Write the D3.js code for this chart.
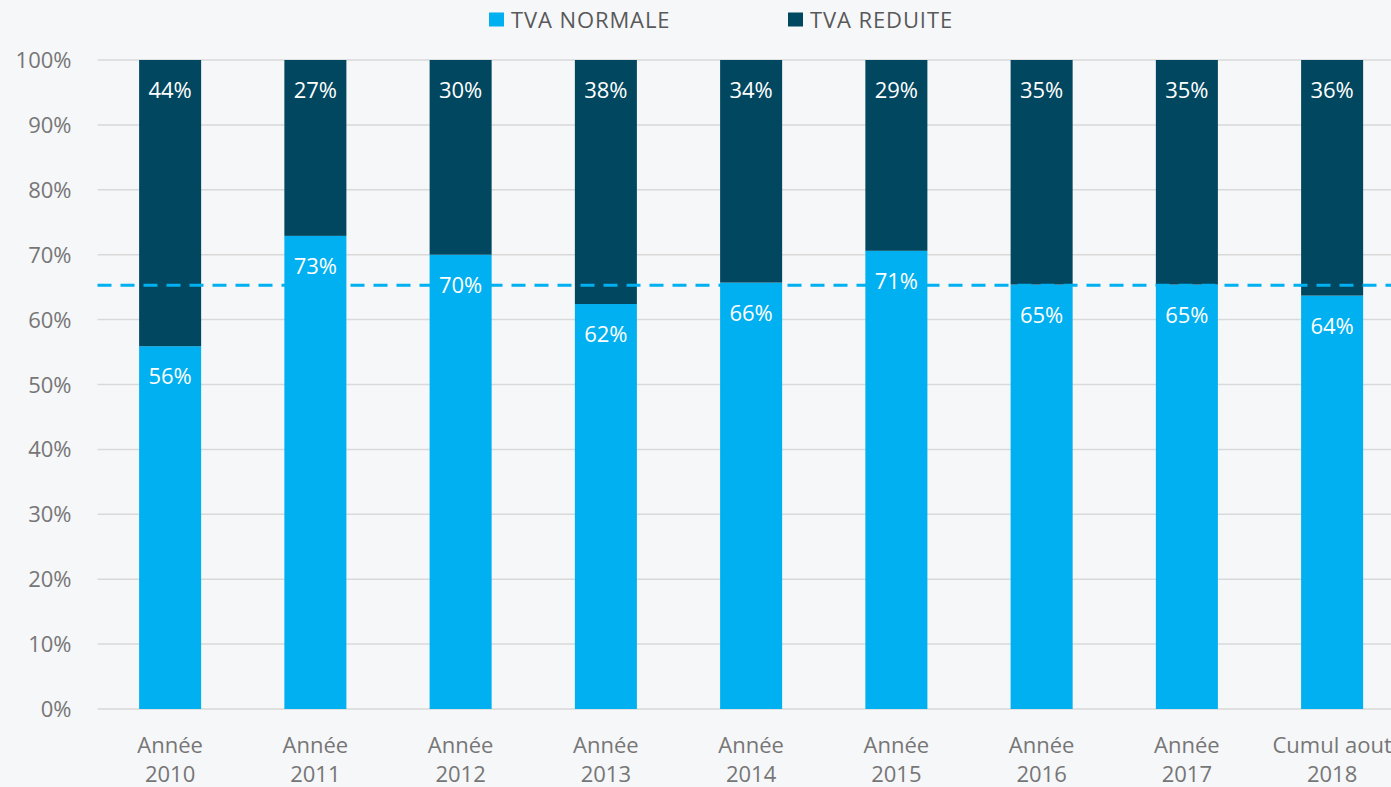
<!DOCTYPE html>
<meta charset="utf-8">
<style>
  body { margin: 0; background: #f6f7f9; }
  svg { display: block; font-family: "Open Sans", sans-serif; }
  .grid line { stroke: #d9d9d9; stroke-width: 1.5px; }
  .tick-label { fill: #767676; font-size: 22px; }
  .legend text { fill: #595959; font-size: 22px; letter-spacing: 0.9px; }
  .bar-label { fill: #ffffff; font-size: 22px; text-anchor: middle; }
</style>
<svg width="1391" height="787"></svg>
<script src="https://d3js.org/d3.v7.min.js"></script>
<script>

var categories = ["Année 2010", "Année 2011", "Année 2012", "Année 2013", "Année 2014",
                  "Année 2015", "Année 2016", "Année 2017", "Cumul aout 2018"];
var tvaNormale = [55.9, 72.9, 70.0, 62.4, 65.7, 70.6, 65.4, 65.4, 63.7];
var tvaReduite = [44.1, 27.1, 30.0, 37.6, 34.3, 29.4, 34.6, 34.6, 36.3];
var moyenneNormale = 65.3;
var yTicks = [0, 10, 20, 30, 40, 50, 60, 70, 80, 90, 100];
var seriesNames = ["TVA NORMALE", "TVA REDUITE"];

var colNormale = "#00b0f0",
    colReduite = "#00475f";

var svg = d3.select("svg"),
    margin = {top: 60, left: 97.5, right: -13.75, bottom: 78},
    width = +svg.attr("width") - margin.left - margin.right,
    height = +svg.attr("height") - margin.top - margin.bottom;

var x = d3.scaleBand()
    .domain(categories)
    .range([0, width])
    .paddingInner(0.573)
    .paddingOuter(0.2865);

var y = d3.scaleLinear().domain([0, 100]).range([height, 0]);

var g = svg.append("g")
    .attr("transform", "translate(" + margin.left + "," + margin.top + ")");

// grid lines
g.append("g").attr("class", "grid")
  .selectAll("line")
  .data(yTicks)
  .enter().append("line")
    .attr("x1", 0)
    .attr("x2", +svg.attr("width") - margin.left)
    .attr("y1", function(d) { return y(d); })
    .attr("y2", function(d) { return y(d); });

// y axis labels
g.selectAll(".ytick")
  .data(yTicks)
  .enter().append("text")
    .attr("class", "tick-label")
    .attr("x", -26)
    .attr("y", function(d) { return y(d) + 8; })
    .attr("text-anchor", "end")
    .text(function(d) { return d + "%"; });

// bars
var bars = g.append("g").selectAll(".bar")
  .data(categories)
  .enter().append("g")
    .attr("class", "bar");

bars.append("rect")
    .attr("x", function(d) { return x(d); })
    .attr("width", x.bandwidth())
    .attr("y", function(d, i) { return y(tvaNormale[i]); })
    .attr("height", function(d, i) { return y(0) - y(tvaNormale[i]); })
    .attr("fill", colNormale);

bars.append("rect")
    .attr("x", function(d) { return x(d); })
    .attr("width", x.bandwidth())
    .attr("y", function(d, i) { return y(tvaNormale[i] + tvaReduite[i]); })
    .attr("height", function(d, i) { return y(tvaNormale[i]) - y(tvaNormale[i] + tvaReduite[i]); })
    .attr("fill", colReduite);

// average line (under the labels)
g.append("line")
    .attr("x1", 0)
    .attr("x2", +svg.attr("width") - margin.left)
    .attr("y1", y(moyenneNormale))
    .attr("y2", y(moyenneNormale))
    .style("stroke", colNormale)
    .style("stroke-width", 3)
    .style("stroke-dasharray", "14,9");

// bar labels
var labels = g.append("g").selectAll(".lab")
  .data(categories)
  .enter().append("g");

labels.append("text")
    .attr("class", "bar-label")
    .attr("x", function(d) { return x(d) + x.bandwidth() / 2; })
    .attr("y", function(d, i) { return y(tvaNormale[i]) + 38; })
    .text(function(d, i) { return Math.round(tvaNormale[i]) + "%"; });

labels.append("text")
    .attr("class", "bar-label")
    .attr("x", function(d) { return x(d) + x.bandwidth() / 2; })
    .attr("y", function(d, i) { return y(tvaNormale[i] + tvaReduite[i]) + 38; })
    .text(function(d, i) { return Math.round(tvaReduite[i]) + "%"; });

// x axis labels (two lines)
var xl = g.selectAll(".xlabel")
  .data(categories)
  .enter().append("text")
    .attr("class", "tick-label")
    .attr("text-anchor", "middle")
    .attr("x", function(d) { return x(d) + x.bandwidth() / 2; })
    .attr("y", height + 44);

xl.each(function(d) {
  var parts = d.split(" ");
  var first = parts.slice(0, parts.length - 1).join(" "), second = parts[parts.length - 1];
  var t = d3.select(this), cx = t.attr("x");
  t.append("tspan").attr("x", cx).text(first);
  t.append("tspan").attr("x", cx).attr("dy", 29).text(second);
});

// legend
var legendX = [489, 788];
var legend = svg.selectAll("g.legend")
  .data(seriesNames)
  .enter().append("g")
    .attr("class", "legend")
    .attr("transform", function(d, i) { return "translate(" + legendX[i] + ",12.5)"; });

legend.append("rect")
    .attr("width", 15)
    .attr("height", 14)
    .attr("fill", function(d, i) { return i == 0 ? colNormale : colReduite; });

legend.append("text")
    .attr("x", 22)
    .attr("y", 15)
    .text(function(d) { return d; });

</script>
